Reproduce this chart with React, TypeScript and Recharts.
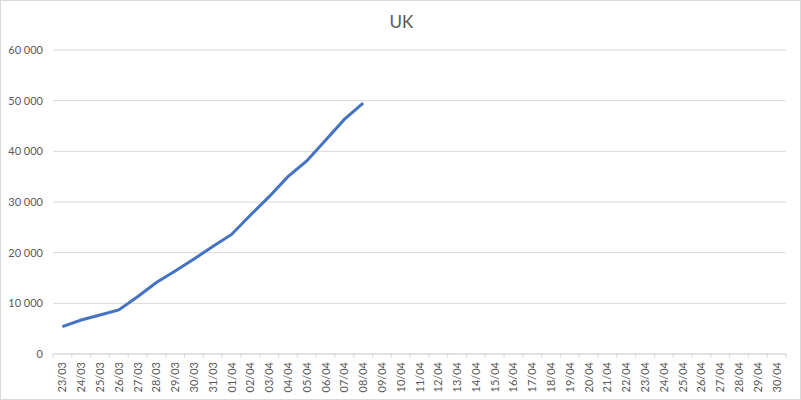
import { LineChart, Line, XAxis, YAxis, CartesianGrid } from 'recharts';

const DATES = [
  '23/03', '24/03', '25/03', '26/03', '27/03', '28/03', '29/03', '30/03', '31/03',
  '01/04', '02/04', '03/04', '04/04', '05/04', '06/04', '07/04', '08/04', '09/04',
  '10/04', '11/04', '12/04', '13/04', '14/04', '15/04', '16/04', '17/04', '18/04',
  '19/04', '20/04', '21/04', '22/04', '23/04', '24/04', '25/04', '26/04', '27/04',
  '28/04', '29/04', '30/04',
];

const CASES = [
  5400, 6700, 7700, 8700, 11300, 14100, 16400, 18750, 21200, 23600,
  27400, 31050, 35000, 38100, 42200, 46300, 49500,
];

const Y_TICKS = [0, 10000, 20000, 30000, 40000, 50000, 60000];

const data = DATES.map((d, i) => ({ date: d, uk: i < CASES.length ? CASES[i] : null }));

const fmt = (v: number) => String(v).replace(/\B(?=(\d{3})+(?!\d))/g, ' ');

const GREY = '#595959';
const LINE = '#d9d9d9';
const FONT = 'Lato, "Open Sans", sans-serif';
const STEP = 733 / DATES.length;

function DateTick(props: any) {
  const { x, payload } = props;
  const y = 354;
  return (
    <g transform={`translate(${x},${y})`}>
      <line x1={-STEP / 2} x2={-STEP / 2} y1={0} y2={4} stroke={LINE} />
      {payload.index === DATES.length - 1 && (
        <line x1={STEP / 2} x2={STEP / 2} y1={0} y2={4} stroke={LINE} />
      )}
      <text transform="rotate(-90)" x={-8} dy={4} textAnchor="end" fill={GREY} fontSize={11} fontFamily={FONT}>
        {payload.value}
      </text>
    </g>
  );
}

export default function App() {
  return (
    <div
      style={{
        position: 'absolute',
        left: 0,
        top: 0,
        width: 801,
        height: 400,
        background: '#fff',
        boxSizing: 'border-box',
        border: '1px solid #d9d9d9',
      }}
    >
      <div
        style={{
          position: 'absolute',
          top: 10,
          left: 0,
          width: 801,
          textAlign: 'center',
          fontFamily: FONT,
          fontSize: 17,
          color: GREY,
        }}
      >
        UK
      </div>
      <div style={{ position: 'absolute', left: -1, top: -1 }}>
        <LineChart width={801} height={400} data={data} margin={{ top: 50, right: 15, bottom: 0, left: 0 }}>
          <CartesianGrid vertical={false} stroke={LINE} />
          <XAxis
            dataKey="date"
            scale="band"
            interval={0}
            stroke={LINE}
            tickLine={false}
            height={46}
            tick={<DateTick />}
          />
          <YAxis
            domain={[0, 60000]}
            ticks={Y_TICKS}
            width={53}
            axisLine={false}
            tickLine={false}
            tickSize={0}
            tickMargin={10}
            tickFormatter={fmt}
            tick={{ fill: GREY, fontSize: 11, fontFamily: FONT }}
          />
          <Line
            type="linear"
            dataKey="uk"
            stroke="#4472c4"
            strokeWidth={3}
            dot={false}
            isAnimationActive={false}
          />
        </LineChart>
      </div>
    </div>
  );
}
